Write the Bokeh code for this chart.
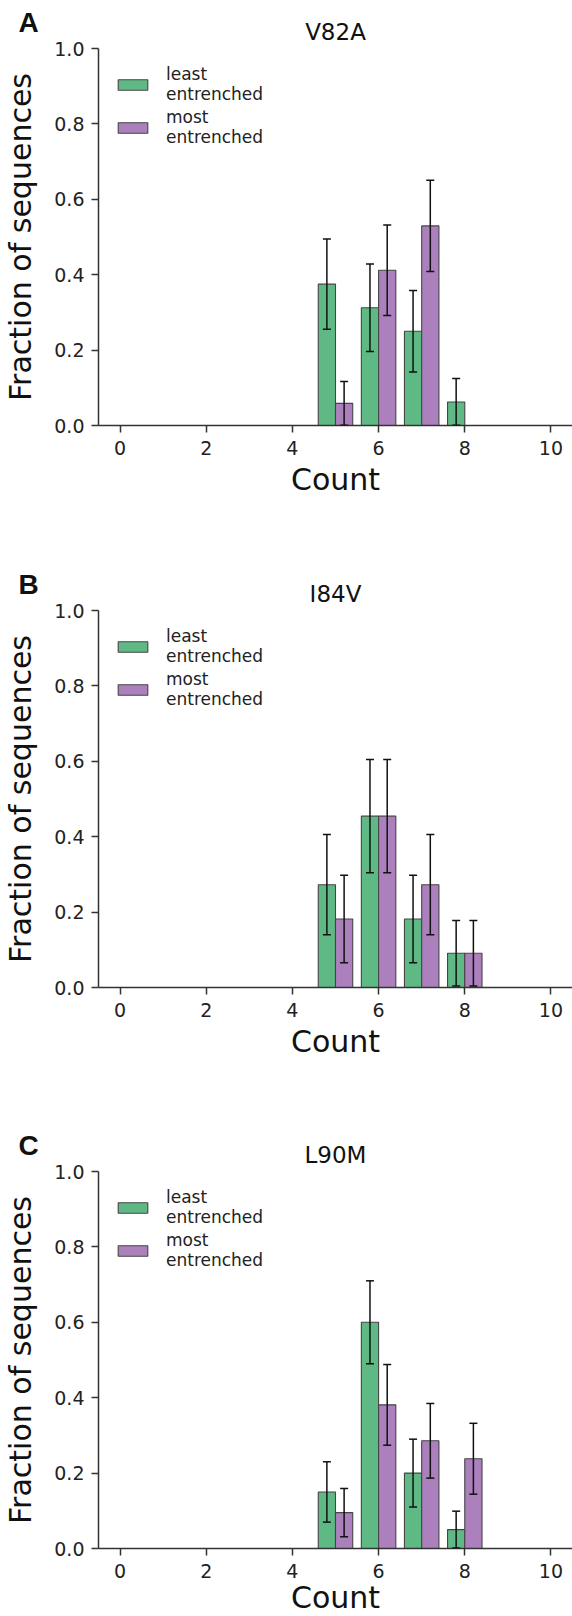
from bokeh.plotting import figure
from bokeh.models import (ColumnDataSource, Range1d, FixedTicker, PrintfTickFormatter,
                          Whisker, TeeHead, Legend, LegendItem, Title)
from bokeh.layouts import column
from bokeh.embed import file_html
from bokeh.resources import INLINE

# ---------------- data ----------------
panel_letters = ["A", "B", "C"]
panel_titles = ["V82A", "I84V", "L90M"]
series_names = ["least\nentrenched", "most\nentrenched"]
x_axis_title = "Count"
y_axis_title = "Fraction of sequences"

# counts present for each series
a_least_counts = [5, 6, 7, 8]
a_least_vals = [0.375, 0.3125, 0.25, 0.0625]
a_least_err = [0.120, 0.116, 0.108, 0.062]
a_most_counts = [5, 6, 7]
a_most_vals = [0.0588, 0.4118, 0.5294]
a_most_err = [0.058, 0.120, 0.121]

b_least_counts = [5, 6, 7, 8]
b_least_vals = [0.2727, 0.4545, 0.1818, 0.0909]
b_least_err = [0.133, 0.150, 0.116, 0.087]
b_most_counts = [5, 6, 7, 8]
b_most_vals = [0.1818, 0.4545, 0.2727, 0.0909]
b_most_err = [0.116, 0.150, 0.133, 0.087]

c_least_counts = [5, 6, 7, 8]
c_least_vals = [0.15, 0.60, 0.20, 0.05]
c_least_err = [0.080, 0.110, 0.090, 0.049]
c_most_counts = [5, 6, 7, 8]
c_most_vals = [0.0952, 0.381, 0.2857, 0.2381]
c_most_err = [0.064, 0.107, 0.099, 0.094]

x_ticks = [0, 2, 4, 6, 8, 10]
y_ticks = [0.0, 0.2, 0.4, 0.6, 0.8, 1.0]

panels = [
    (a_least_counts, a_least_vals, a_least_err, a_most_counts, a_most_vals, a_most_err),
    (b_least_counts, b_least_vals, b_least_err, b_most_counts, b_most_vals, b_most_err),
    (c_least_counts, c_least_vals, c_least_err, c_most_counts, c_most_vals, c_most_err),
]

# ---------------- style ----------------
FONT = "DejaVu Sans"
LETTER_FONT = "Liberation Sans"
GREEN = "#5fb985"
PURPLE = "#ab80bd"
EDGE = "#454545"
BAR_W = 0.4
W = 572
LEFT = 96
TOP = 48
FRAME_H = 377
heights = [562, 561, 493]


def make_panel(idx):
    lc, lv, le, mc, mv, me = panels[idx]
    H = heights[idx]
    p = figure(width=W, height=H, output_backend="svg", toolbar_location=None,
               x_range=Range1d(-0.5, 10.5), y_range=Range1d(0, 1.0),
               min_border_left=LEFT, min_border_right=0, min_border_top=TOP,
               min_border_bottom=H - TOP - FRAME_H)
    p.outline_line_color = None
    p.xgrid.visible = False
    p.ygrid.visible = False
    p.background_fill_color = "white"
    p.border_fill_color = "white"
    p.title.visible = False

    # panel title (closest to the frame), then the panel letter above / left of it
    p.add_layout(Title(text=panel_titles[idx], align="center", vertical_align="bottom",
                       standoff=8, text_font=FONT, text_font_size="23px",
                       text_font_style="normal", text_color="#111111"), "above")
    p.add_layout(Title(text=panel_letters[idx], align="left", vertical_align="bottom",
                       offset=16 - LEFT, standoff=-50, text_font=LETTER_FONT,
                       text_font_size="28px", text_font_style="bold",
                       text_color="#111111"), "above")

    for ax in (p.xaxis[0], p.yaxis[0]):
        ax.axis_line_color = "#333333"
        ax.axis_line_width = 1.5
        ax.major_tick_line_color = "#333333"
        ax.major_tick_line_width = 1.5
        ax.major_tick_out = 7
        ax.major_tick_in = 0
        ax.minor_tick_line_color = None
        ax.major_label_text_font = FONT
        ax.major_label_text_font_size = "19px"
        ax.major_label_text_color = "#222222"
        ax.axis_label_text_font = FONT
        ax.axis_label_text_font_size = "30px"
        ax.axis_label_text_font_style = "normal"
        ax.axis_label_text_color = "#111111"

    p.xaxis.ticker = FixedTicker(ticks=x_ticks)
    p.yaxis.ticker = FixedTicker(ticks=y_ticks)
    p.yaxis.formatter = PrintfTickFormatter(format="%.1f")
    p.xaxis.major_label_standoff = 8
    p.yaxis.major_label_standoff = 7
    p.yaxis.axis_label = y_axis_title
    p.yaxis.axis_label_standoff = 13
    if idx < 2:
        p.xaxis.axis_label = x_axis_title
        p.xaxis.axis_label_standoff = 4
    else:
        # in the original the last axis title is cut by the bottom page edge
        p.add_layout(Title(text=x_axis_title, align="center", vertical_align="bottom",
                           standoff=-6, text_font=FONT, text_font_size="30px",
                           text_font_style="normal", text_color="#111111"), "below")

    src_l = ColumnDataSource(dict(
        x=[c - BAR_W / 2 for c in lc], top=lv,
        upper=[v + e for v, e in zip(lv, le)],
        lower=[max(v - e, 0) for v, e in zip(lv, le)]))
    src_m = ColumnDataSource(dict(
        x=[c + BAR_W / 2 for c in mc], top=mv,
        upper=[v + e for v, e in zip(mv, me)],
        lower=[max(v - e, 0) for v, e in zip(mv, me)]))

    r_l = p.vbar(x="x", top="top", bottom=0, width=BAR_W, source=src_l,
                 fill_color=GREEN, line_color=EDGE, line_width=1.1)
    r_m = p.vbar(x="x", top="top", bottom=0, width=BAR_W, source=src_m,
                 fill_color=PURPLE, line_color=EDGE, line_width=1.1)

    for src in (src_l, src_m):
        w = Whisker(base="x", upper="upper", lower="lower", source=src,
                    line_color="#111111", line_width=1.5, level="overlay",
                    upper_head=TeeHead(size=8, line_color="#111111", line_width=1.5),
                    lower_head=TeeHead(size=8, line_color="#111111", line_width=1.5))
        p.add_layout(w)

    legend = Legend(items=[LegendItem(label=series_names[0], renderers=[r_l]),
                           LegendItem(label=series_names[1], renderers=[r_m])],
                    location="top_left", margin=6, padding=10, spacing=3,
                    glyph_width=37, glyph_height=13, label_standoff=15,
                    label_text_font=FONT, label_text_font_size="17px",
                    label_text_color="#222222",
                    border_line_alpha=0, background_fill_alpha=0)
    p.add_layout(legend)
    return p


figs = [make_panel(i) for i in range(3)]
layout = column(*figs, spacing=0)
open("out.html", "w").write(file_html(layout, INLINE))
